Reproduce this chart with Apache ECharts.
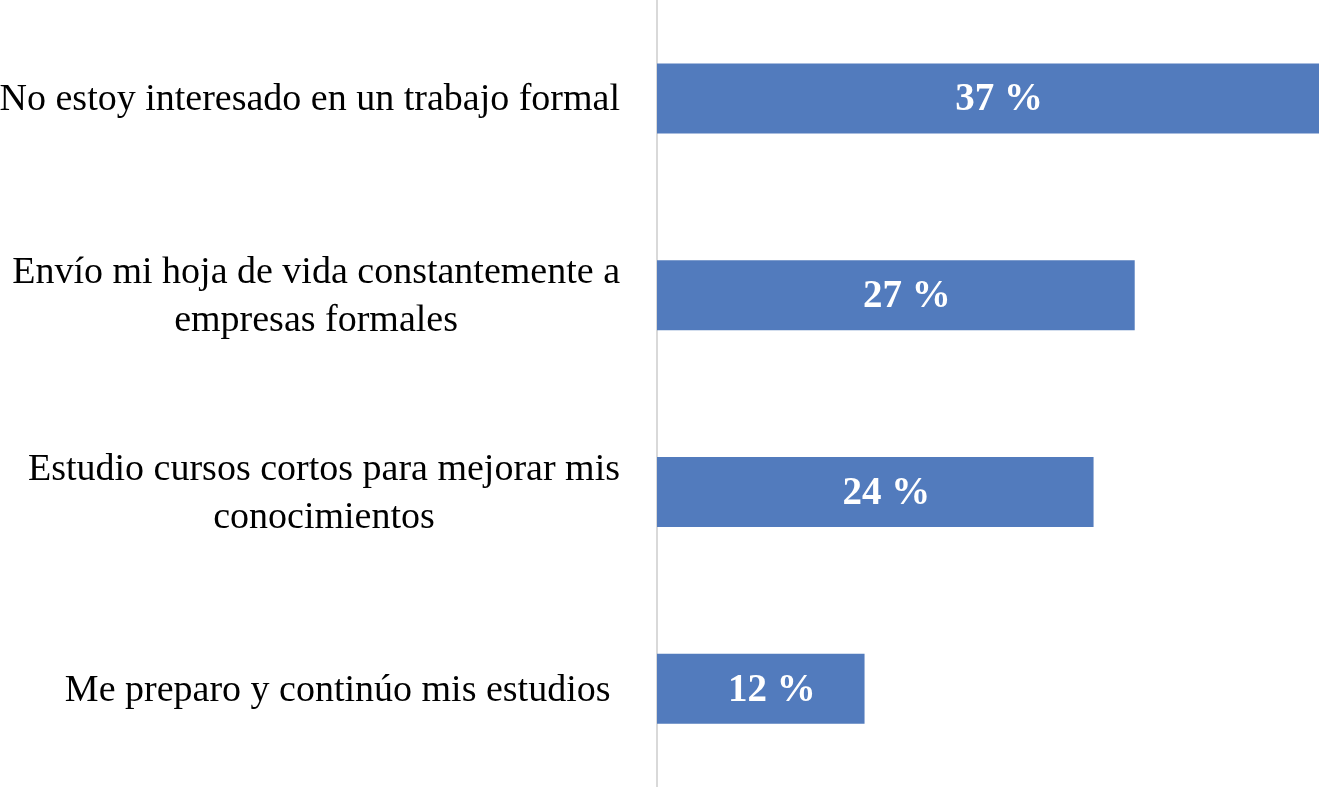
<!DOCTYPE html>
<html>
<head>
<meta charset="utf-8">
<script src="https://cdn.jsdelivr.net/npm/echarts@6/dist/echarts.min.js"></script>
<style>
  html, body { margin: 0; padding: 0; background: #fff; }
  #chart { width: 1319px; height: 787px; }
</style>
</head>
<body>
<div id="chart"></div>
<script>
// categories, bottom to top (category axis starts at the bottom)
const categories = [
    'Me preparo y continúo mis estudios ',
    'Estudio cursos cortos para mejorar mis\nconocimientos',
    'Envío mi hoja de vida constantemente a\nempresas formales',
    'No estoy interesado en un trabajo formal'
];
// bar lengths (percent)
const values = [11.6, 24.4, 26.7, 37.0];
// printed labels
const labels = ['12 %', '24 %', '27 %', '37 %'];

let chart = echarts.init(document.getElementById('chart'));

const serif = '"Liberation Serif", "DejaVu Serif", serif';

const option = {
    animation: false,
    grid: {
        left: 657,
        right: 0,
        top: 0,
        bottom: 0,
        containLabel: false,
        outerBoundsMode: 'none'
    },
    xAxis: {
        type: 'value',
        min: 0,
        max: 37,
        show: false
    },
    yAxis: {
        type: 'category',
        data: categories,
        axisTick: { show: false },
        axisLine: { lineStyle: { color: '#d9d9d9', width: 2 } },
        axisLabel: {
            margin: 37,
            align: 'right',
            fontFamily: serif,
            fontSize: 38,
            color: '#000',
            lineHeight: 48,
            // each line centred inside a right-aligned block
            formatter: function (v) {
                return v.split('\n').map(s => '{c|' + s + '}').join('\n');
            },
            rich: {
                c: {
                    align: 'center',
                    fontFamily: serif,
                    fontSize: 38,
                    color: '#000',
                    lineHeight: 48,
                    padding: [4, 0, 0, 0]
                }
            }
        }
    },
    series: [
        {
            type: 'bar',
            data: values,
            barWidth: 70,
            itemStyle: { color: '#527BBD' },
            label: {
                show: true,
                position: 'inside',
                offset: [11, 2],
                color: '#fff',
                fontFamily: serif,
                fontWeight: 'bold',
                fontSize: 39,
                formatter: function (p) {
                    return labels[p.dataIndex];
                }
            }
        }
    ]
};

chart.setOption(option);
</script>
</body>
</html>
